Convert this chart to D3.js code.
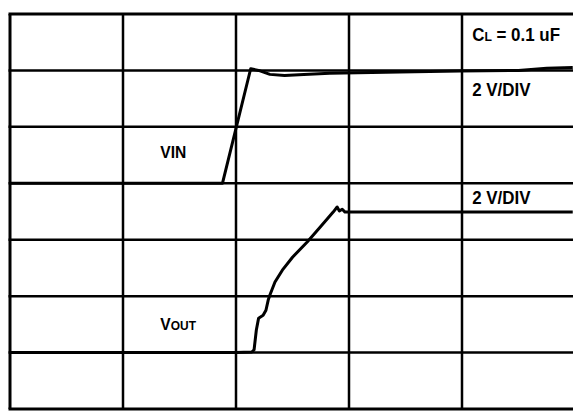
<!DOCTYPE html>
<html>
<head>
<meta charset="utf-8">
<script src="https://cdn.jsdelivr.net/npm/d3@7"></script>
<style>
  body { margin: 0; background: #fff; }
  text { font-family: "Liberation Sans", Arial, sans-serif; font-weight: bold; fill: #000; }
</style>
</head>
<body>
<script>
// scope trace in divisions (x: time div, y: vertical div from bottom)
const vinX = [0, 1.88, 2.13, 2.2, 2.3, 2.43, 2.6, 2.83, 3.45, 3.98, 4.5, 4.75, 4.98]
const vinY = [4.0, 4.0, 6.03, 6.0, 5.93, 5.91, 5.93, 5.95, 5.97, 5.99, 6.0, 6.04, 6.05]

const voutX = [0, 2.0, 2.14, 2.16, 2.18, 2.2, 2.24, 2.265, 2.285, 2.3, 2.345, 2.41, 2.5, 2.63, 2.74, 2.86, 2.895, 2.915, 2.94, 2.965, 4.98]
const voutY = [1.0, 1.0, 1.01, 1.05, 1.4, 1.61, 1.66, 1.75, 1.93, 2.02, 2.25, 2.46, 2.69, 2.96, 3.21, 3.49, 3.58, 3.51, 3.54, 3.49, 3.49]

const xDivs = d3.range(0, 6)
const yDivs = d3.range(0, 8)

const labels = [
    {x: 4.09, y: 6.53, main: "C", sub: "L", rest: " = 0.1 uF"},
    {x: 4.09, y: 5.54, main: "2 V/DIV", sub: "", rest: ""},
    {x: 4.09, y: 3.64, main: "2 V/DIV", sub: "", rest: ""},
    {x: 1.33, y: 4.45, main: "VIN", sub: "", rest: ""},
    {x: 1.33, y: 1.4, main: "V", sub: "OUT", rest: ""}
]

const width = 573
const height = 418

const xScale = d3.scaleLinear().domain([0, 5]).range([10, 575])
const yScale = d3.scaleLinear().domain([0, 7]).range([409, 14])

const svg = d3.select("body")
    .append("svg")
    .attr("width", width)
    .attr("height", height)

// grid
svg.selectAll(".vgrid")
    .data(xDivs)
    .enter()
    .append("line")
    .attr("class", "vgrid")
    .attr("x1", d => xScale(d))
    .attr("x2", d => xScale(d))
    .attr("y1", yScale(7))
    .attr("y2", yScale(0))
    .attr("stroke", "#000")
    .attr("stroke-width", d => d == 0 ? 3 : 2.5)

svg.selectAll(".hgrid")
    .data(yDivs)
    .enter()
    .append("line")
    .attr("class", "hgrid")
    .attr("x1", xScale(0) - 1.5)
    .attr("x2", xScale(5))
    .attr("y1", d => yScale(d))
    .attr("y2", d => yScale(d))
    .attr("stroke", "#000")
    .attr("stroke-width", d => (d == 0 || d == 7) ? 3 : 2.5)

const line = d3.line()
    .x(d => xScale(d[0]))
    .y(d => yScale(d[1]))

svg.append("path")
    .datum(d3.zip(vinX, vinY))
    .attr("d", line)
    .attr("fill", "none")
    .attr("stroke", "#000")
    .attr("stroke-width", 3)
    .attr("stroke-linejoin", "round")

svg.append("path")
    .datum(d3.zip(voutX, voutY))
    .attr("d", line)
    .attr("fill", "none")
    .attr("stroke", "#000")
    .attr("stroke-width", 3)
    .attr("stroke-linejoin", "round")

// labels, squeezed a bit to look like the narrow face in the scan
const txt = svg.selectAll(".lab")
    .data(labels)
    .enter()
    .append("text")
    .attr("class", "lab")
    .attr("transform", d => "translate(" + xScale(d.x) + "," + yScale(d.y) + ") scale(" + (d.x > 3 ? 0.94 : 0.92) + ",1)")
    .style("font-size", d => d.x > 3 ? "18px" : "17px")

txt.append("tspan").text(d => d.main)
txt.append("tspan").style("font-size", "13px").text(d => d.sub)
txt.append("tspan").text(d => d.rest)
</script>
</body>
</html>
